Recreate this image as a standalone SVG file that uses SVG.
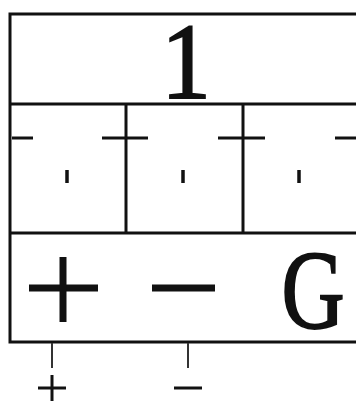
<svg xmlns="http://www.w3.org/2000/svg" width="356" height="403" viewBox="0 0 356 403">
<style>
.frame{fill:none;stroke:#111;stroke-width:3}
.dash{stroke:#111;stroke-width:3}
.tick{stroke:#111;stroke-width:3.5}
.lead{stroke:#333;stroke-width:2}
.serif{font-family:"Liberation Serif",serif;fill:#111;stroke:#111;stroke-width:2}
.sym{stroke:#111;stroke-width:7}
</style>
<rect width="356" height="403" fill="#fff"/>
<g id="frame">
<rect class="frame" x="10" y="14" width="360" height="328"/>
<line class="frame" x1="10" y1="104" x2="360" y2="104"/>
<line class="frame" x1="10" y1="233" x2="360" y2="233"/>
<line class="frame" x1="126" y1="104" x2="126" y2="233"/>
<line class="frame" x1="243" y1="104" x2="243" y2="233"/>
</g>
<g id="title">
<text class="serif" x="186" y="98" font-size="108" text-anchor="middle" transform="translate(186 0) scale(0.92 1) translate(-186 0)">1</text>
</g>
<g id="cell1">
<line class="dash" x1="12" y1="138" x2="33" y2="138"/>
<line class="tick" x1="67" y1="170" x2="67" y2="183"/>
</g>
<g id="cell2">
<line class="dash" x1="102" y1="138" x2="148" y2="138"/>
<line class="tick" x1="183" y1="170" x2="183" y2="183"/>
</g>
<g id="cell3">
<line class="dash" x1="218" y1="138" x2="265" y2="138"/>
<line class="tick" x1="299" y1="170" x2="299" y2="183"/>
<line class="dash" x1="335" y1="138" x2="356" y2="138"/>
</g>
<g id="terminals">
<line class="sym" x1="29" y1="288" x2="98" y2="288"/>
<line class="sym" x1="63" y1="257" x2="63" y2="322"/>
<line class="sym" x1="152" y1="288" x2="215" y2="288"/>
<text class="serif" x="313" y="328" font-size="112" text-anchor="middle" transform="translate(313 0) scale(0.78 1) translate(-313 0)">G</text>
</g>
<g id="connectors">
<line class="lead" x1="52" y1="343" x2="52" y2="368"/>
<line class="lead" x1="188" y1="343" x2="188" y2="368"/>
</g>
<g id="labels">
<line class="dash" x1="38" y1="388" x2="66" y2="388"/>
<line class="dash" x1="52" y1="375" x2="52" y2="401"/>
<line class="dash" x1="174" y1="388" x2="202" y2="388"/>
</g>
</svg>
